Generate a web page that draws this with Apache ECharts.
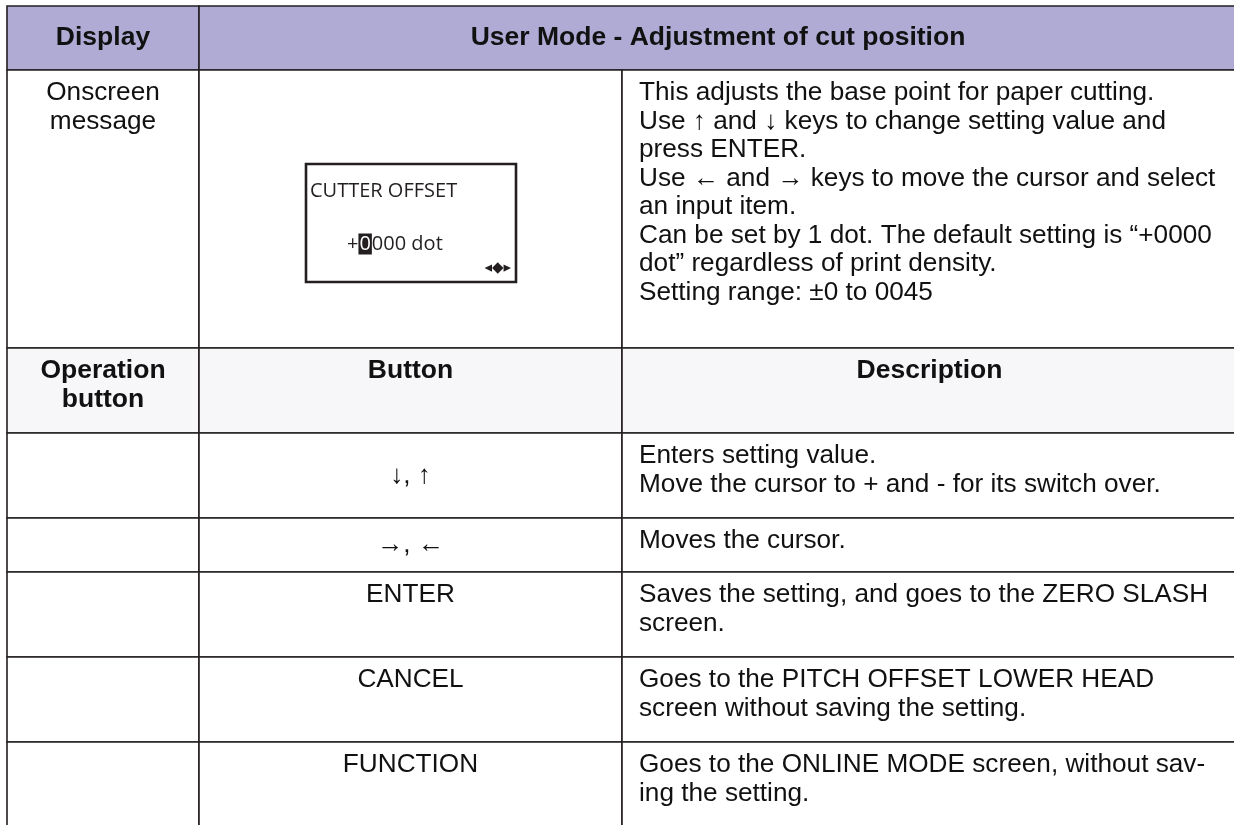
<!DOCTYPE html>
<html>
<head>
<meta charset="utf-8">
<script src="https://cdn.jsdelivr.net/npm/echarts@6/dist/echarts.min.js"></script>
<style>
html, body { margin: 0; padding: 0; background: #ffffff; }
#chart { width: 1234px; height: 825px; }
</style>
</head>
<body>
<div id="chart"></div>
<script>
// ---------- Content (text of the table) ----------
const headerTitles = ['Display', 'User Mode - Adjustment of cut position'];
const displayLabel = 'Onscreen\nmessage';
const lcdTitle = 'CUTTER OFFSET';
const lcdSign = '+';
const lcdCursorDigit = '0';
const lcdRest = '000 dot';
const lcdIcon = '◂◆▸';
const displayDescription = [
  'This adjusts the base point for paper cutting.',
  'Use ↑ and ↓ keys to change setting value and',
  'press ENTER.',
  'Use ← and → keys to move the cursor and select',
  'an input item.',
  'Can be set by 1 dot. The default setting is “+0000',
  'dot” regardless of print density.',
  'Setting range: ±0 to 0045'
];
const operationHeaders = ['Operation\nbutton', 'Button', 'Description'];
const buttons = ['↓, ↑', '→, ←', 'ENTER', 'CANCEL', 'FUNCTION'];
const buttonDescriptions = [
  'Enters setting value.\nMove the cursor to + and - for its switch over.',
  'Moves the cursor.',
  'Saves the setting, and goes to the ZERO SLASH\nscreen.',
  'Goes to the PITCH OFFSET LOWER HEAD\nscreen without saving the setting.',
  'Goes to the ONLINE MODE screen, without sav-\ning the setting.'
];

// ---------- Layout (table geometry in axis units) ----------
const COL_EDGES = [7, 199, 622, 1237];
const ROW_EDGES = [6, 70, 348, 433, 518, 572, 657, 742, 827];
const LCD_BOX = [306, 164, 516, 282];
const BUTTON_VALIGN = ['middle', 'middle', 'top', 'top', 'top'];

const FAMILY = 'Liberation Sans';
const LCD_FAMILY = 'Open Sans';
const FS = 26.2;
const FS_BOLD = 26.5;
const LH = 28.5;
const FIRST_LINE = 23;
const INK = '#111111';
const LINE = '#231f20';
const HEADER_FILL = '#b0abd5';
const SUBHEADER_FILL = '#f7f7fa';

// ---------- Build cells ----------
const cells = [];
function addCell(c0, c1, r, text, opt) {
  cells.push(Object.assign({
    value: [COL_EDGES[c0], COL_EDGES[c1], ROW_EDGES[r], ROW_EDGES[r + 1]],
    text: text, align: 'center', valign: 'top', bold: false, fill: '#ffffff'
  }, opt || {}));
}
addCell(0, 1, 0, headerTitles[0], { bold: true, valign: 'middle', fill: HEADER_FILL });
addCell(1, 3, 0, headerTitles[1], { bold: true, valign: 'middle', fill: HEADER_FILL });
addCell(0, 1, 1, displayLabel, {});
addCell(1, 2, 1, '', { lcd: true });
addCell(2, 3, 1, displayDescription.join('\n'), { align: 'left' });
addCell(0, 1, 2, operationHeaders[0], { bold: true, fill: SUBHEADER_FILL });
addCell(1, 2, 2, operationHeaders[1], { bold: true, fill: SUBHEADER_FILL });
addCell(2, 3, 2, operationHeaders[2], { bold: true, fill: SUBHEADER_FILL });
buttons.forEach(function (b, i) {
  addCell(0, 1, 3 + i, '', {});
  addCell(1, 2, 3 + i, b, { valign: BUTTON_VALIGN[i] });
  addCell(2, 3, 3 + i, buttonDescriptions[i], { align: 'left' });
});

function lcdText(size, color) {
  return { fontSize: size, fontFamily: LCD_FAMILY, fontWeight: 'normal', fill: color };
}

function renderCell(params, api) {
  const c = cells[params.dataIndex];
  const p0 = api.coord([api.value(0), api.value(2)]);
  const p1 = api.coord([api.value(1), api.value(3)]);
  const x0 = p0[0], y0 = p0[1], w = p1[0] - p0[0], h = p1[1] - p0[1];
  const children = [{
    type: 'rect',
    shape: { x: x0, y: y0, width: w, height: h },
    style: { fill: c.fill, stroke: LINE, lineWidth: 1.6 }
  }];
  if (c.text) {
    const tx = c.align === 'left' ? x0 + 17 : x0 + w / 2;
    const ty = c.valign === 'middle' ? y0 + h / 2 : y0 + FIRST_LINE - LH / 2;
    children.push({
      type: 'text',
      style: {
        text: c.text, x: tx, y: ty,
        align: c.align, verticalAlign: c.valign,
        fontSize: c.bold ? FS_BOLD : FS, fontFamily: FAMILY, fontWeight: c.bold ? 'bold' : 'normal',
        lineHeight: LH, fill: INK
      }
    });
  }
  if (c.lcd) {
    const b0 = api.coord([LCD_BOX[0], LCD_BOX[1]]);
    const b1 = api.coord([LCD_BOX[2], LCD_BOX[3]]);
    children.push({
      type: 'rect',
      shape: { x: b0[0], y: b0[1], width: b1[0] - b0[0], height: b1[1] - b0[1] },
      style: { fill: '#ffffff', stroke: LINE, lineWidth: 2.6 }
    });
    children.push({
      type: 'text',
      style: Object.assign({
        text: lcdTitle, x: b0[0] + 4, y: b0[1] + 27,
        align: 'left', verticalAlign: 'middle'
      }, lcdText(20, LINE))
    });
    children.push({
      type: 'text',
      style: Object.assign({
        text: '{s|' + lcdSign + '}{c|' + lcdCursorDigit + '}{n|' + lcdRest + '}',
        x: b0[0] + 41, y: b0[1] + 80,
        align: 'left', verticalAlign: 'middle',
        rich: {
          s: lcdText(20, LINE),
          c: Object.assign(lcdText(20, '#ffffff'), { backgroundColor: LINE, padding: [1, 1, 0, 1] }),
          n: lcdText(20, LINE)
        }
      }, lcdText(20, LINE))
    });
    children.push({
      type: 'text',
      style: {
        text: lcdIcon, x: b1[0] - 5, y: b1[1] - 14,
        align: 'right', verticalAlign: 'middle',
        fontSize: 15, fontFamily: 'DejaVu Sans', fill: LINE
      }
    });
  }
  return { type: 'group', children: children };
}

const chart = echarts.init(document.getElementById('chart'), null, { renderer: 'canvas' });
chart.setOption({
  animation: false,
  backgroundColor: '#ffffff',
  grid: { left: 0, right: 0, top: 0, bottom: 0 },
  xAxis: { type: 'value', min: 0, max: 1234, show: false },
  yAxis: { type: 'value', min: 0, max: 825, inverse: true, show: false },
  tooltip: { show: false },
  series: [{
    type: 'custom',
    renderItem: renderCell,
    data: cells.map(function (c) { return c.value; }),
    encode: { x: [0, 1], y: [2, 3] },
    clip: false,
    silent: true
  }]
});
</script>
</body>
</html>
